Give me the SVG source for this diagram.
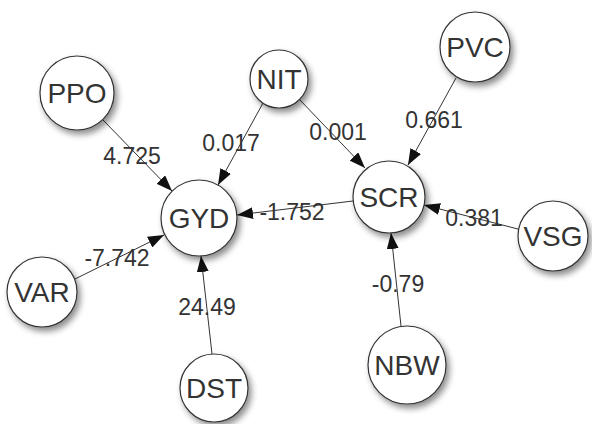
<svg xmlns="http://www.w3.org/2000/svg" width="592" height="424" viewBox="0 0 592 424">
<style>
.n circle{fill:#fff;stroke:#333;stroke-width:1.2;filter:url(#sh)}
.n text{font-family:"Liberation Sans",Arial,sans-serif;font-size:28px;fill:#333;text-anchor:middle;dominant-baseline:central}
.e line{stroke:#333;stroke-width:1;marker-end:url(#ar)}
.e text{font-family:"Liberation Sans",Arial,sans-serif;font-size:23px;fill:#333;text-anchor:middle;dominant-baseline:central}
</style>
<defs>
<filter id="sh" x="-30%" y="-30%" width="170%" height="170%">
<feDropShadow dx="3" dy="4" stdDeviation="3" flood-color="#000" flood-opacity="0.45"/>
</filter>
<marker id="ar" viewBox="0 0 16 12" refX="16" refY="6" markerWidth="16" markerHeight="12" markerUnits="userSpaceOnUse" orient="auto">
<path d="M0,0 L16,6 L0,12 Z" fill="#111"/>
</marker>
</defs>
<rect width="592" height="424" fill="#fff"/>
<g id="edges" class="e">
<line x1="103" y1="120" x2="172" y2="191"/>
<line x1="263" y1="103" x2="218" y2="185"/>
<line x1="299" y1="99" x2="365" y2="168"/>
<line x1="456" y1="78" x2="408" y2="165"/>
<line x1="353" y1="201" x2="237" y2="215"/>
<line x1="518" y1="229" x2="424" y2="205"/>
<line x1="401" y1="326" x2="391" y2="233"/>
<line x1="75" y1="279" x2="164" y2="235"/>
<line x1="212" y1="354" x2="201" y2="256"/>
<text x="132" y="156">4.725</text>
<text x="231" y="143">0.017</text>
<text x="338" y="132">0.001</text>
<text x="434" y="120">0.661</text>
<text x="292" y="212">-1.752</text>
<text x="474" y="218">0.381</text>
<text x="398" y="284">-0.79</text>
<text x="117" y="258">-7.742</text>
<text x="207" y="307">24.49</text>
</g>
<g id="PPO" class="n"><circle cx="77" cy="93" r="37"/><text x="77" y="93">PPO</text></g>
<g id="NIT" class="n"><circle cx="279" cy="79" r="29"/><text x="279" y="79">NIT</text></g>
<g id="PVC" class="n"><circle cx="475" cy="47" r="35"/><text x="475" y="47">PVC</text></g>
<g id="GYD" class="n"><circle cx="199" cy="218" r="38"/><text x="199" y="218">GYD</text></g>
<g id="SCR" class="n"><circle cx="389" cy="197" r="36"/><text x="389" y="197">SCR</text></g>
<g id="VSG" class="n"><circle cx="553" cy="236" r="35"/><text x="553" y="236">VSG</text></g>
<g id="VAR" class="n"><circle cx="42" cy="292" r="35"/><text x="42" y="292">VAR</text></g>
<g id="DST" class="n"><circle cx="214" cy="388" r="34"/><text x="214" y="388">DST</text></g>
<g id="NBW" class="n"><circle cx="407" cy="365" r="39"/><text x="407" y="365">NBW</text></g>
</svg>
